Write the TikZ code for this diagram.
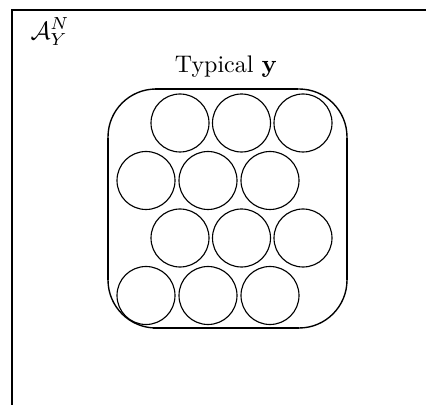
\documentclass[tikz,border=0pt]{standalone}
\usepackage{amsmath}
\begin{document}
\begin{tikzpicture}[x=0.4pt,y=-0.4pt,
  ball/.style={draw,circle,minimum size=23.2pt,inner sep=0pt,line width=0.45pt},
  frameline/.style={line width=0.8pt},
  boxside/.style={line width=0.9pt},
  boxarc/.style={line width=0.55pt,rounded corners=19.2pt},
  lbl/.style={inner sep=0pt,font=\fontsize{9.6}{11}\selectfont}]
\useasboundingbox (0,0) rectangle (426,405);
% outer frame
\coordinate (ftl) at (12,10);
\coordinate (ftr) at (430,10);
\coordinate (fbl) at (12,410);
\draw[frameline] (fbl) -- (ftl) -- (ftr);
\node[lbl] (space) at (50,32) {$\mathcal{A}_Y^N$};
\node[lbl] (title) at (226,67) {Typical $\mathbf{y}$};
% rounded box
\draw[boxarc] (108,89) rectangle (347,328);
\draw[boxside] (108,138) -- (108,280);
\draw[boxside] (347,138) -- (347,280);
\draw[boxside] (155,89) -- (298,89);
\draw[boxside] (153,328) -- (299,328);
% circles
\node[ball] (c11) at (180,123) {};
\node[ball] (c12) at (241.5,123) {};
\node[ball] (c13) at (303,123) {};
\node[ball] (c21) at (146,180.5) {};
\node[ball] (c22) at (208,180.5) {};
\node[ball] (c23) at (270,180.5) {};
\node[ball] (c31) at (180,238) {};
\node[ball] (c32) at (241.5,238) {};
\node[ball] (c33) at (303,238) {};
\node[ball] (c41) at (146,295.5) {};
\node[ball] (c42) at (208,295.5) {};
\node[ball] (c43) at (270,295.5) {};
\end{tikzpicture}
\end{document}
